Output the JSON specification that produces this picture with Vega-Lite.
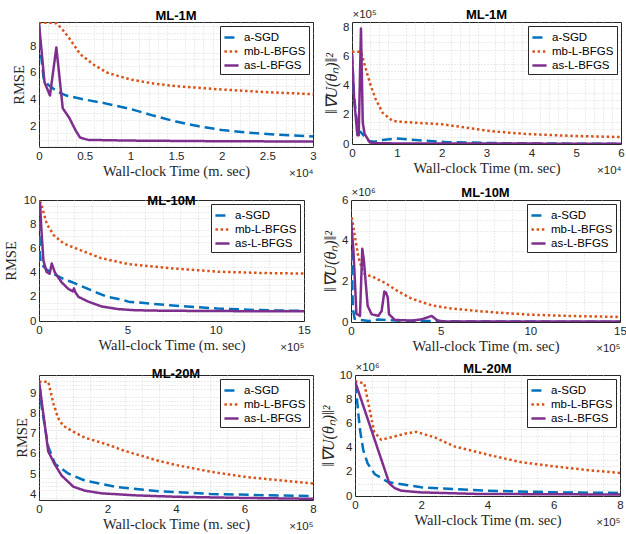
{
"$schema": "https://vega.github.io/schema/vega-lite/v6.json",
"padding": {"left": 2, "top": 7, "right": 0, "bottom": 0},
"config": {
 "font": "Liberation Sans",
 "view": {"stroke": "#262626", "strokeWidth": 1},
 "title": {"font": "Liberation Sans", "fontSize": 13, "fontWeight": "bold", "color": "black", "frame": "group", "anchor": "middle", "offset": 0},
 "axis": {"labelFont": "Liberation Sans", "labelFontSize": 11.5, "labelColor": "#262626", "titleFont": "Liberation Serif", "titleFontSize": 14.5, "titleFontWeight": "normal", "titleColor": "#262626", "domain": false, "ticks": false, "gridColor": "#dcdcdc", "gridWidth": 0.8, "labelPadding": 3, "titlePadding": 3, "labelFlush": false},
 "legend": {"orient": "top-right", "offset": 4, "fillColor": "white", "strokeColor": "#262626", "padding": 3, "labelFontSize": 11.5, "labelFont": "Liberation Sans", "labelColor": "black", "symbolType": "stroke", "symbolStrokeWidth": 2.5, "symbolSize": 200, "rowPadding": 0, "labelOffset": 4}
},
"datasets": {
"p1": [
{"m":"a-SGD","t":0,"v":9.6},{"m":"a-SGD","t":200,"v":7.5},{"m":"a-SGD","t":500,"v":5.6},{"m":"a-SGD","t":1000,"v":5.1},{"m":"a-SGD","t":2000,"v":4.6},{"m":"a-SGD","t":3000,"v":4.3},{"m":"a-SGD","t":5000,"v":4.0},{"m":"a-SGD","t":7000,"v":3.75},{"m":"a-SGD","t":10000,"v":3.3},{"m":"a-SGD","t":12500,"v":2.8},{"m":"a-SGD","t":15000,"v":2.35},{"m":"a-SGD","t":17500,"v":2.0},{"m":"a-SGD","t":20000,"v":1.72},{"m":"a-SGD","t":22500,"v":1.55},{"m":"a-SGD","t":25000,"v":1.42},{"m":"a-SGD","t":27500,"v":1.32},{"m":"a-SGD","t":30000,"v":1.23},
{"m":"mb-L-BFGS","t":0,"v":9.75},{"m":"mb-L-BFGS","t":1000,"v":9.75},{"m":"mb-L-BFGS","t":1900,"v":9.7},{"m":"mb-L-BFGS","t":2500,"v":9.3},{"m":"mb-L-BFGS","t":3300,"v":8.6},{"m":"mb-L-BFGS","t":4500,"v":7.4},{"m":"mb-L-BFGS","t":6000,"v":6.6},{"m":"mb-L-BFGS","t":7500,"v":6.0},{"m":"mb-L-BFGS","t":10000,"v":5.5},{"m":"mb-L-BFGS","t":12500,"v":5.2},{"m":"mb-L-BFGS","t":15000,"v":5.0},{"m":"mb-L-BFGS","t":20000,"v":4.75},{"m":"mb-L-BFGS","t":25000,"v":4.55},{"m":"mb-L-BFGS","t":30000,"v":4.4},
{"m":"as-L-BFGS","t":0,"v":9.7},{"m":"as-L-BFGS","t":600,"v":5.3},{"m":"as-L-BFGS","t":1200,"v":4.3},{"m":"as-L-BFGS","t":1900,"v":7.9},{"m":"as-L-BFGS","t":2600,"v":3.35},{"m":"as-L-BFGS","t":3300,"v":2.65},{"m":"as-L-BFGS","t":4000,"v":1.7},{"m":"as-L-BFGS","t":4500,"v":1.15},{"m":"as-L-BFGS","t":5400,"v":0.98},{"m":"as-L-BFGS","t":10000,"v":0.93},{"m":"as-L-BFGS","t":20000,"v":0.88},{"m":"as-L-BFGS","t":30000,"v":0.86}
],
"p2": [
{"m":"a-SGD","t":0,"v":6.2e5},{"m":"a-SGD","t":400,"v":3.5e5},{"m":"a-SGD","t":900,"v":2.0e5},{"m":"a-SGD","t":1500,"v":0.9e5},{"m":"a-SGD","t":2000,"v":0.8e5},{"m":"a-SGD","t":2700,"v":0.55e5},{"m":"a-SGD","t":3800,"v":0.2e5},{"m":"a-SGD","t":5000,"v":0.15e5},{"m":"a-SGD","t":6800,"v":0.28e5},{"m":"a-SGD","t":9700,"v":0.38e5},{"m":"a-SGD","t":14100,"v":0.28e5},{"m":"a-SGD","t":20700,"v":0.14e5},{"m":"a-SGD","t":30000,"v":0.07e5},{"m":"a-SGD","t":40000,"v":0.04e5},{"m":"a-SGD","t":50000,"v":0.02e5},{"m":"a-SGD","t":60000,"v":0.01e5},
{"m":"mb-L-BFGS","t":0,"v":6.35e5},{"m":"mb-L-BFGS","t":2000,"v":6.35e5},{"m":"mb-L-BFGS","t":3100,"v":5.15e5},{"m":"mb-L-BFGS","t":4200,"v":4.0e5},{"m":"mb-L-BFGS","t":5300,"v":3.08e5},{"m":"mb-L-BFGS","t":6800,"v":2.16e5},{"m":"mb-L-BFGS","t":9000,"v":1.6e5},{"m":"mb-L-BFGS","t":10000,"v":1.55e5},{"m":"mb-L-BFGS","t":15000,"v":1.45e5},{"m":"mb-L-BFGS","t":20000,"v":1.36e5},{"m":"mb-L-BFGS","t":25000,"v":1.15e5},{"m":"mb-L-BFGS","t":30000,"v":0.92e5},{"m":"mb-L-BFGS","t":35000,"v":0.78e5},{"m":"mb-L-BFGS","t":40000,"v":0.67e5},{"m":"mb-L-BFGS","t":50000,"v":0.55e5},{"m":"mb-L-BFGS","t":60000,"v":0.48e5},
{"m":"as-L-BFGS","t":0,"v":6.2e5},{"m":"as-L-BFGS","t":500,"v":3.0e5},{"m":"as-L-BFGS","t":1200,"v":0.6e5},{"m":"as-L-BFGS","t":1500,"v":0.6e5},{"m":"as-L-BFGS","t":2000,"v":7.95e5},{"m":"as-L-BFGS","t":2400,"v":1.5e5},{"m":"as-L-BFGS","t":2800,"v":0.7e5},{"m":"as-L-BFGS","t":4000,"v":0.1e5},{"m":"as-L-BFGS","t":6000,"v":0.05e5},{"m":"as-L-BFGS","t":10000,"v":0.04e5},{"m":"as-L-BFGS","t":30000,"v":0.03e5},{"m":"as-L-BFGS","t":60000,"v":0.02e5}
],
"p3": [
{"m":"a-SGD","t":0,"v":9.5},{"m":"a-SGD","t":5000,"v":5.6},{"m":"a-SGD","t":10000,"v":4.8},{"m":"a-SGD","t":15000,"v":4.67},{"m":"a-SGD","t":43000,"v":4.25},{"m":"a-SGD","t":90000,"v":3.83},{"m":"a-SGD","t":150000,"v":3.4},{"m":"a-SGD","t":190000,"v":3.2},{"m":"a-SGD","t":270000,"v":2.7},{"m":"a-SGD","t":330000,"v":2.33},{"m":"a-SGD","t":385000,"v":2.0},{"m":"a-SGD","t":460000,"v":1.78},{"m":"a-SGD","t":507000,"v":1.6},{"m":"a-SGD","t":740000,"v":1.3},{"m":"a-SGD","t":1010000,"v":1.03},{"m":"a-SGD","t":1250000,"v":0.9},{"m":"a-SGD","t":1500000,"v":0.83},
{"m":"mb-L-BFGS","t":0,"v":9.8},{"m":"mb-L-BFGS","t":10000,"v":9.8},{"m":"mb-L-BFGS","t":27000,"v":8.9},{"m":"mb-L-BFGS","t":45000,"v":8.0},{"m":"mb-L-BFGS","t":83000,"v":7.1},{"m":"mb-L-BFGS","t":140000,"v":6.4},{"m":"mb-L-BFGS","t":253000,"v":5.75},{"m":"mb-L-BFGS","t":350000,"v":5.2},{"m":"mb-L-BFGS","t":507000,"v":4.7},{"m":"mb-L-BFGS","t":743000,"v":4.36},{"m":"mb-L-BFGS","t":1010000,"v":4.08},{"m":"mb-L-BFGS","t":1250000,"v":3.97},{"m":"mb-L-BFGS","t":1500000,"v":3.92},
{"m":"as-L-BFGS","t":0,"v":9.8},{"m":"as-L-BFGS","t":6000,"v":9.7},{"m":"as-L-BFGS","t":15000,"v":7.2},{"m":"as-L-BFGS","t":25000,"v":5.0},{"m":"as-L-BFGS","t":43000,"v":4.05},{"m":"as-L-BFGS","t":60000,"v":3.9},{"m":"as-L-BFGS","t":72000,"v":4.75},{"m":"as-L-BFGS","t":90000,"v":4.0},{"m":"as-L-BFGS","t":128000,"v":3.2},{"m":"as-L-BFGS","t":166000,"v":2.65},{"m":"as-L-BFGS","t":192000,"v":2.45},{"m":"as-L-BFGS","t":198000,"v":2.7},{"m":"as-L-BFGS","t":205000,"v":2.4},{"m":"as-L-BFGS","t":223000,"v":2.0},{"m":"as-L-BFGS","t":279000,"v":1.6},{"m":"as-L-BFGS","t":355000,"v":1.2},{"m":"as-L-BFGS","t":450000,"v":0.98},{"m":"as-L-BFGS","t":543000,"v":0.89},{"m":"as-L-BFGS","t":700000,"v":0.85},{"m":"as-L-BFGS","t":1000000,"v":0.82},{"m":"as-L-BFGS","t":1500000,"v":0.8}
],
"p4": [
{"m":"a-SGD","t":0,"v":5.0e6},{"m":"a-SGD","t":5000,"v":3.0e6},{"m":"a-SGD","t":10000,"v":0.7e6},{"m":"a-SGD","t":20000,"v":0.16e6},{"m":"a-SGD","t":50000,"v":0.1e6},{"m":"a-SGD","t":100000,"v":0.05e6},{"m":"a-SGD","t":150000,"v":0.12e6},{"m":"a-SGD","t":200000,"v":0.1e6},{"m":"a-SGD","t":300000,"v":0.05e6},{"m":"a-SGD","t":450000,"v":0.05e6},{"m":"a-SGD","t":600000,"v":0.03e6},{"m":"a-SGD","t":1000000,"v":0.02e6},{"m":"a-SGD","t":1500000,"v":0.01e6},
{"m":"mb-L-BFGS","t":0,"v":5.1e6},{"m":"mb-L-BFGS","t":5000,"v":5.1e6},{"m":"mb-L-BFGS","t":22000,"v":4.2e6},{"m":"mb-L-BFGS","t":41000,"v":3.2e6},{"m":"mb-L-BFGS","t":69000,"v":2.4e6},{"m":"mb-L-BFGS","t":90000,"v":2.3e6},{"m":"mb-L-BFGS","t":115000,"v":2.25e6},{"m":"mb-L-BFGS","t":190000,"v":1.92e6},{"m":"mb-L-BFGS","t":264000,"v":1.5e6},{"m":"mb-L-BFGS","t":338000,"v":1.15e6},{"m":"mb-L-BFGS","t":450000,"v":0.82e6},{"m":"mb-L-BFGS","t":560000,"v":0.66e6},{"m":"mb-L-BFGS","t":710000,"v":0.54e6},{"m":"mb-L-BFGS","t":850000,"v":0.44e6},{"m":"mb-L-BFGS","t":1000000,"v":0.36e6},{"m":"mb-L-BFGS","t":1250000,"v":0.29e6},{"m":"mb-L-BFGS","t":1500000,"v":0.25e6},
{"m":"as-L-BFGS","t":0,"v":5.0e6},{"m":"as-L-BFGS","t":13000,"v":3.6e6},{"m":"as-L-BFGS","t":22000,"v":2.0e6},{"m":"as-L-BFGS","t":30000,"v":0.4e6},{"m":"as-L-BFGS","t":50000,"v":0.3e6},{"m":"as-L-BFGS","t":63000,"v":3.6e6},{"m":"as-L-BFGS","t":72000,"v":3.0e6},{"m":"as-L-BFGS","t":82000,"v":1.94e6},{"m":"as-L-BFGS","t":93000,"v":0.79e6},{"m":"as-L-BFGS","t":115000,"v":0.38e6},{"m":"as-L-BFGS","t":152000,"v":0.3e6},{"m":"as-L-BFGS","t":171000,"v":0.54e6},{"m":"as-L-BFGS","t":186000,"v":1.5e6},{"m":"as-L-BFGS","t":190000,"v":1.4e6},{"m":"as-L-BFGS","t":195000,"v":1.45e6},{"m":"as-L-BFGS","t":205000,"v":1.2e6},{"m":"as-L-BFGS","t":212000,"v":0.38e6},{"m":"as-L-BFGS","t":245000,"v":0.1e6},{"m":"as-L-BFGS","t":340000,"v":0.07e6},{"m":"as-L-BFGS","t":394000,"v":0.13e6},{"m":"as-L-BFGS","t":450000,"v":0.3e6},{"m":"as-L-BFGS","t":478000,"v":0.1e6},{"m":"as-L-BFGS","t":506000,"v":0.02e6},{"m":"as-L-BFGS","t":800000,"v":0.02e6},{"m":"as-L-BFGS","t":1500000,"v":0.02e6}
],
"p5": [
{"m":"a-SGD","t":0,"v":9.4},{"m":"a-SGD","t":3000,"v":9.2},{"m":"a-SGD","t":8000,"v":8.3},{"m":"a-SGD","t":18000,"v":7.27},{"m":"a-SGD","t":27000,"v":6.35},{"m":"a-SGD","t":47000,"v":5.5},{"m":"a-SGD","t":86000,"v":5.02},{"m":"a-SGD","t":134000,"v":4.68},{"m":"a-SGD","t":231000,"v":4.35},{"m":"a-SGD","t":348000,"v":4.15},{"m":"a-SGD","t":500000,"v":4.02},{"m":"a-SGD","t":650000,"v":3.96},{"m":"a-SGD","t":800000,"v":3.92},
{"m":"mb-L-BFGS","t":0,"v":9.57},{"m":"mb-L-BFGS","t":27000,"v":9.57},{"m":"mb-L-BFGS","t":42000,"v":8.5},{"m":"mb-L-BFGS","t":55000,"v":7.8},{"m":"mb-L-BFGS","t":70000,"v":7.4},{"m":"mb-L-BFGS","t":100000,"v":7.1},{"m":"mb-L-BFGS","t":134000,"v":6.8},{"m":"mb-L-BFGS","t":193000,"v":6.5},{"m":"mb-L-BFGS","t":250000,"v":6.15},{"m":"mb-L-BFGS","t":300000,"v":5.9},{"m":"mb-L-BFGS","t":350000,"v":5.65},{"m":"mb-L-BFGS","t":400000,"v":5.45},{"m":"mb-L-BFGS","t":500000,"v":5.12},{"m":"mb-L-BFGS","t":600000,"v":4.87},{"m":"mb-L-BFGS","t":700000,"v":4.7},{"m":"mb-L-BFGS","t":800000,"v":4.53},
{"m":"as-L-BFGS","t":0,"v":9.6},{"m":"as-L-BFGS","t":27000,"v":6.12},{"m":"as-L-BFGS","t":47000,"v":5.45},{"m":"as-L-BFGS","t":66000,"v":4.93},{"m":"as-L-BFGS","t":100000,"v":4.38},{"m":"as-L-BFGS","t":134000,"v":4.18},{"m":"as-L-BFGS","t":183000,"v":4.05},{"m":"as-L-BFGS","t":280000,"v":3.95},{"m":"as-L-BFGS","t":400000,"v":3.88},{"m":"as-L-BFGS","t":600000,"v":3.82},{"m":"as-L-BFGS","t":800000,"v":3.78}
],
"p6": [
{"m":"a-SGD","t":0,"v":9.3e6},{"m":"a-SGD","t":5000,"v":8.3e6},{"m":"a-SGD","t":10000,"v":6.8e6},{"m":"a-SGD","t":16000,"v":5.3e6},{"m":"a-SGD","t":25000,"v":3.8e6},{"m":"a-SGD","t":38000,"v":2.7e6},{"m":"a-SGD","t":60000,"v":1.8e6},{"m":"a-SGD","t":100000,"v":1.15e6},{"m":"a-SGD","t":200000,"v":0.72e6},{"m":"a-SGD","t":400000,"v":0.44e6},{"m":"a-SGD","t":600000,"v":0.3e6},{"m":"a-SGD","t":800000,"v":0.25e6},
{"m":"mb-L-BFGS","t":0,"v":9.5e6},{"m":"mb-L-BFGS","t":28000,"v":9.3e6},{"m":"mb-L-BFGS","t":43000,"v":7.3e6},{"m":"mb-L-BFGS","t":58000,"v":5.3e6},{"m":"mb-L-BFGS","t":79000,"v":4.65e6},{"m":"mb-L-BFGS","t":110000,"v":4.85e6},{"m":"mb-L-BFGS","t":150000,"v":5.15e6},{"m":"mb-L-BFGS","t":185000,"v":5.3e6},{"m":"mb-L-BFGS","t":240000,"v":4.85e6},{"m":"mb-L-BFGS","t":300000,"v":4.1e6},{"m":"mb-L-BFGS","t":400000,"v":3.42e6},{"m":"mb-L-BFGS","t":500000,"v":2.8e6},{"m":"mb-L-BFGS","t":600000,"v":2.45e6},{"m":"mb-L-BFGS","t":700000,"v":2.15e6},{"m":"mb-L-BFGS","t":800000,"v":1.9e6},
{"m":"as-L-BFGS","t":0,"v":9.48e6},{"m":"as-L-BFGS","t":104000,"v":1.02e6},{"m":"as-L-BFGS","t":120000,"v":0.65e6},{"m":"as-L-BFGS","t":139000,"v":0.44e6},{"m":"as-L-BFGS","t":199000,"v":0.3e6},{"m":"as-L-BFGS","t":370000,"v":0.17e6},{"m":"as-L-BFGS","t":800000,"v":0.12e6}
]
},
"spacing": 6,
"resolve": {"scale": {"color": "independent", "strokeDash": "independent"}, "legend": {"color": "independent", "strokeDash": "independent"}},
"vconcat": [
{"hconcat": [
 {"width": 274, "height": 125, "title": {"text": "ML-1M", "offset": -3}, "data": {"name": "p1"},
  "layer": [
   {"mark": {"type": "point", "opacity": 0},
    "encoding": {
     "x": {"field": "t", "type": "quantitative", "scale": {"domain": [0, 30000], "nice": false, "zero": false},
      "axis": {"orient": "bottom", "values": [1000,2000,3000,4000,6000,7000,8000,9000,11000,12000,13000,14000,16000,17000,18000,19000,21000,22000,23000,24000,26000,27000,28000,29000], "labels": false, "gridDash": [1, 2], "gridColor": "#cfcfcf", "title": "×10⁴", "titleFont": "Liberation Sans", "titleFontSize": 11.5, "titleX": 274, "titleY": 20, "titleAlign": "right", "titleBaseline": "top"}},
     "y": {"field": "v", "type": "quantitative", "scale": {"domain": [0.45, 9.8], "nice": false, "zero": false},
      "axis": {"orient": "left", "values": [0.5,1,1.5,2.5,3,3.5,4.5,5,5.5,6.5,7,7.5,8.5,9,9.5], "labels": false, "gridDash": [1, 2], "gridColor": "#cfcfcf", "title": null}}
    }},
   {"mark": {"type": "line", "strokeWidth": 2.5, "clip": true, "strokeJoin": "round"},
    "encoding": {
     "x": {"field": "t", "type": "quantitative", "scale": {"domain": [0, 30000], "nice": false, "zero": false},
      "axis": {"orient": "bottom", "values": [0,5000,10000,15000,20000,25000,30000], "labelExpr": "format(datum.value/1e4, '~g')", "title": "Wall-clock Time (m. sec)", "gridOpacity": {"condition": {"test": "datum.value <= 0 || datum.value >= 30000", "value": 0}, "value": 1}}},
     "y": {"field": "v", "type": "quantitative", "scale": {"domain": [0.45, 9.8], "nice": false, "zero": false},
      "axis": {"orient": "left", "values": [2,4,6,8], "title": "RMSE"}},
     "color": {"field": "m", "type": "nominal", "scale": {"domain": ["a-SGD","mb-L-BFGS","as-L-BFGS"], "range": ["#0072BD","#D95319","#7E2F8E"]}, "legend": {"title": null}},
     "strokeDash": {"field": "m", "type": "nominal", "scale": {"domain": ["a-SGD","mb-L-BFGS","as-L-BFGS"], "range": [[10,5],[2.5,2.7],[1,0]]}, "legend": {"title": null}}
    }}
  ],
  "resolve": {"axis": {"x": "independent", "y": "independent"}}},
 {"width": 269, "height": 122, "title": {"text": "ML-1M", "offset": -14}, "data": {"name": "p2"},
  "layer": [
   {"mark": {"type": "point", "opacity": 0},
    "encoding": {
     "x": {"field": "t", "type": "quantitative", "scale": {"domain": [0, 60000], "nice": false, "zero": false},
      "axis": {"orient": "bottom", "values": [2000,4000,6000,8000,12000,14000,16000,18000,22000,24000,26000,28000,32000,34000,36000,38000,42000,44000,46000,48000,52000,54000,56000,58000], "labels": false, "gridDash": [1, 2], "gridColor": "#cfcfcf", "title": "×10⁴", "titleFont": "Liberation Sans", "titleFontSize": 11.5, "titleX": 269, "titleY": 20, "titleAlign": "right", "titleBaseline": "top"}},
     "y": {"field": "v", "type": "quantitative", "scale": {"domain": [0, 8.4e5], "nice": false, "zero": false},
      "axis": {"orient": "left", "values": [0.5e5,1e5,1.5e5,2.5e5,3e5,3.5e5,4.5e5,5e5,5.5e5,6.5e5,7e5,7.5e5], "labels": false, "gridDash": [1, 2], "gridColor": "#cfcfcf", "title": "×10⁵", "titleFont": "Liberation Sans", "titleFontSize": 11.5, "titleAngle": 0, "titleX": 0, "titleY": -3, "titleAlign": "left", "titleBaseline": "bottom"}}
    }},
   {"mark": {"type": "line", "strokeWidth": 2.5, "clip": true, "strokeJoin": "round"},
    "encoding": {
     "x": {"field": "t", "type": "quantitative", "scale": {"domain": [0, 60000], "nice": false, "zero": false},
      "axis": {"orient": "bottom", "values": [0,10000,20000,30000,40000,50000,60000], "labelExpr": "format(datum.value/1e4, '~g')", "title": "Wall-clock Time (m. sec)", "gridOpacity": {"condition": {"test": "datum.value <= 0 || datum.value >= 60000", "value": 0}, "value": 1}}},
     "y": {"field": "v", "type": "quantitative", "scale": {"domain": [0, 8.4e5], "nice": false, "zero": false},
      "axis": {"orient": "left", "values": [0,2e5,4e5,6e5,8e5], "labelExpr": "format(datum.value/1e5, '~g')", "title": "‖∇U(θₙ)‖²", "titleFontSize": 16, "titleFontStyle": "italic", "gridOpacity": {"condition": {"test": "datum.value <= 0", "value": 0}, "value": 1}}},
     "color": {"field": "m", "type": "nominal", "scale": {"domain": ["a-SGD","mb-L-BFGS","as-L-BFGS"], "range": ["#0072BD","#D95319","#7E2F8E"]}, "legend": {"title": null}},
     "strokeDash": {"field": "m", "type": "nominal", "scale": {"domain": ["a-SGD","mb-L-BFGS","as-L-BFGS"], "range": [[10,5],[2.5,2.7],[1,0]]}, "legend": {"title": null}}
    }}
  ],
  "resolve": {"axis": {"x": "independent", "y": "independent"}}}
 ], "spacing": 6, "resolve": {"scale": {"color": "independent", "strokeDash": "independent"}, "legend": {"color": "independent", "strokeDash": "independent"}}},
{"hconcat": [
 {"width": 265, "height": 121, "title": {"text": "ML-10M", "offset": -14}, "data": {"name": "p3"},
  "layer": [
   {"mark": {"type": "point", "opacity": 0},
    "encoding": {
     "x": {"field": "t", "type": "quantitative", "scale": {"domain": [0, 1.5e6], "nice": false, "zero": false},
      "axis": {"orient": "bottom", "values": [1e5,2e5,3e5,4e5,6e5,7e5,8e5,9e5,11e5,12e5,13e5,14e5], "labels": false, "gridDash": [1, 2], "gridColor": "#cfcfcf", "title": "×10⁵", "titleFont": "Liberation Sans", "titleFontSize": 11.5, "titleX": 265, "titleY": 20, "titleAlign": "right", "titleBaseline": "top"}},
     "y": {"field": "v", "type": "quantitative", "scale": {"domain": [0, 10], "nice": false, "zero": false},
      "axis": {"orient": "left", "values": [0.5,1,1.5,2.5,3,3.5,4.5,5,5.5,6.5,7,7.5,8.5,9,9.5], "labels": false, "gridDash": [1, 2], "gridColor": "#cfcfcf", "title": null}}
    }},
   {"mark": {"type": "line", "strokeWidth": 2.5, "clip": true, "strokeJoin": "round"},
    "encoding": {
     "x": {"field": "t", "type": "quantitative", "scale": {"domain": [0, 1.5e6], "nice": false, "zero": false},
      "axis": {"orient": "bottom", "values": [0,5e5,10e5,15e5], "labelExpr": "format(datum.value/1e5, '~g')", "title": "Wall-clock Time (m. sec)", "gridOpacity": {"condition": {"test": "datum.value <= 0 || datum.value >= 1.5e6", "value": 0}, "value": 1}}},
     "y": {"field": "v", "type": "quantitative", "scale": {"domain": [0, 10], "nice": false, "zero": false},
      "axis": {"orient": "left", "values": [0,2,4,6,8,10], "title": "RMSE", "titlePadding": 5, "gridOpacity": {"condition": {"test": "datum.value <= 0 || datum.value >= 10", "value": 0}, "value": 1}}},
     "color": {"field": "m", "type": "nominal", "scale": {"domain": ["a-SGD","mb-L-BFGS","as-L-BFGS"], "range": ["#0072BD","#D95319","#7E2F8E"]}, "legend": {"title": null}},
     "strokeDash": {"field": "m", "type": "nominal", "scale": {"domain": ["a-SGD","mb-L-BFGS","as-L-BFGS"], "range": [[10,5],[2.5,2.7],[1,0]]}, "legend": {"title": null}}
    }}
  ],
  "resolve": {"axis": {"x": "independent", "y": "independent"}}},
 {"width": 269, "height": 122, "title": {"text": "ML-10M", "offset": -14}, "data": {"name": "p4"},
  "layer": [
   {"mark": {"type": "point", "opacity": 0},
    "encoding": {
     "x": {"field": "t", "type": "quantitative", "scale": {"domain": [0, 1.5e6], "nice": false, "zero": false},
      "axis": {"orient": "bottom", "values": [1e5,2e5,3e5,4e5,6e5,7e5,8e5,9e5,11e5,12e5,13e5,14e5], "labels": false, "gridDash": [1, 2], "gridColor": "#cfcfcf", "title": "×10⁵", "titleFont": "Liberation Sans", "titleFontSize": 11.5, "titleX": 269, "titleY": 20, "titleAlign": "right", "titleBaseline": "top"}},
     "y": {"field": "v", "type": "quantitative", "scale": {"domain": [0, 6e6], "nice": false, "zero": false},
      "axis": {"orient": "left", "values": [0.5e6,1e6,1.5e6,2.5e6,3e6,3.5e6,4.5e6,5e6,5.5e6], "labels": false, "gridDash": [1, 2], "gridColor": "#cfcfcf", "title": "×10⁶", "titleFont": "Liberation Sans", "titleFontSize": 11.5, "titleAngle": 0, "titleX": 0, "titleY": -3, "titleAlign": "left", "titleBaseline": "bottom"}}
    }},
   {"mark": {"type": "line", "strokeWidth": 2.5, "clip": true, "strokeJoin": "round"},
    "encoding": {
     "x": {"field": "t", "type": "quantitative", "scale": {"domain": [0, 1.5e6], "nice": false, "zero": false},
      "axis": {"orient": "bottom", "values": [0,5e5,10e5,15e5], "labelExpr": "format(datum.value/1e5, '~g')", "title": "Wall-clock Time (m. sec)", "gridOpacity": {"condition": {"test": "datum.value <= 0 || datum.value >= 1.5e6", "value": 0}, "value": 1}}},
     "y": {"field": "v", "type": "quantitative", "scale": {"domain": [0, 6e6], "nice": false, "zero": false},
      "axis": {"orient": "left", "values": [0,2e6,4e6,6e6], "labelExpr": "format(datum.value/1e6, '~g')", "title": "‖∇U(θₙ)‖²", "titleFontSize": 16, "titleFontStyle": "italic", "gridOpacity": {"condition": {"test": "datum.value <= 0 || datum.value >= 6e6", "value": 0}, "value": 1}}},
     "color": {"field": "m", "type": "nominal", "scale": {"domain": ["a-SGD","mb-L-BFGS","as-L-BFGS"], "range": ["#0072BD","#D95319","#7E2F8E"]}, "legend": {"title": null}},
     "strokeDash": {"field": "m", "type": "nominal", "scale": {"domain": ["a-SGD","mb-L-BFGS","as-L-BFGS"], "range": [[10,5],[2.5,2.7],[1,0]]}, "legend": {"title": null}}
    }}
  ],
  "resolve": {"axis": {"x": "independent", "y": "independent"}}}
 ], "spacing": 11, "resolve": {"scale": {"color": "independent", "strokeDash": "independent"}, "legend": {"color": "independent", "strokeDash": "independent"}}},
{"hconcat": [
 {"width": 274, "height": 125, "title": {"text": "ML-20M", "offset": -6}, "data": {"name": "p5"},
  "layer": [
   {"mark": {"type": "point", "opacity": 0},
    "encoding": {
     "x": {"field": "t", "type": "quantitative", "scale": {"domain": [0, 8e5], "nice": false, "zero": false},
      "axis": {"orient": "bottom", "values": [0.5e5,1e5,1.5e5,2.5e5,3e5,3.5e5,4.5e5,5e5,5.5e5,6.5e5,7e5,7.5e5], "labels": false, "gridDash": [1, 2], "gridColor": "#cfcfcf", "title": "×10⁵", "titleFont": "Liberation Sans", "titleFontSize": 11.5, "titleX": 274, "titleY": 20, "titleAlign": "right", "titleBaseline": "top"}},
     "y": {"field": "v", "type": "quantitative", "scale": {"domain": [3.72, 9.9], "nice": false, "zero": false},
      "axis": {"orient": "left", "values": [3.8,4.2,4.4,4.6,4.8,5.2,5.4,5.6,5.8,6.2,6.4,6.6,6.8,7.2,7.4,7.6,7.8,8.2,8.4,8.6,8.8,9.2,9.4,9.6,9.8], "labels": false, "gridDash": [1, 2], "gridColor": "#cfcfcf", "title": null}}
    }},
   {"mark": {"type": "line", "strokeWidth": 2.5, "clip": true, "strokeJoin": "round"},
    "encoding": {
     "x": {"field": "t", "type": "quantitative", "scale": {"domain": [0, 8e5], "nice": false, "zero": false},
      "axis": {"orient": "bottom", "values": [0,2e5,4e5,6e5,8e5], "labelExpr": "format(datum.value/1e5, '~g')", "title": "Wall-clock Time (m. sec)", "gridOpacity": {"condition": {"test": "datum.value <= 0 || datum.value >= 8e5", "value": 0}, "value": 1}}},
     "y": {"field": "v", "type": "quantitative", "scale": {"domain": [3.72, 9.9], "nice": false, "zero": false},
      "axis": {"orient": "left", "values": [4,5,6,7,8,9], "title": "RMSE", "titlePadding": 0}},
     "color": {"field": "m", "type": "nominal", "scale": {"domain": ["a-SGD","mb-L-BFGS","as-L-BFGS"], "range": ["#0072BD","#D95319","#7E2F8E"]}, "legend": {"title": null}},
     "strokeDash": {"field": "m", "type": "nominal", "scale": {"domain": ["a-SGD","mb-L-BFGS","as-L-BFGS"], "range": [[10,5],[2.5,2.7],[1,0]]}, "legend": {"title": null}}
    }}
  ],
  "resolve": {"axis": {"x": "independent", "y": "independent"}}},
 {"width": 265, "height": 121, "title": {"text": "ML-20M", "offset": -15}, "data": {"name": "p6"},
  "layer": [
   {"mark": {"type": "point", "opacity": 0},
    "encoding": {
     "x": {"field": "t", "type": "quantitative", "scale": {"domain": [0, 8e5], "nice": false, "zero": false},
      "axis": {"orient": "bottom", "values": [0.5e5,1e5,1.5e5,2.5e5,3e5,3.5e5,4.5e5,5e5,5.5e5,6.5e5,7e5,7.5e5], "labels": false, "gridDash": [1, 2], "gridColor": "#cfcfcf", "title": "×10⁵", "titleFont": "Liberation Sans", "titleFontSize": 11.5, "titleX": 265, "titleY": 20, "titleAlign": "right", "titleBaseline": "top"}},
     "y": {"field": "v", "type": "quantitative", "scale": {"domain": [0, 1e7], "nice": false, "zero": false},
      "axis": {"orient": "left", "values": [0.5e6,1e6,1.5e6,2.5e6,3e6,3.5e6,4.5e6,5e6,5.5e6,6.5e6,7e6,7.5e6,8.5e6,9e6,9.5e6], "labels": false, "gridDash": [1, 2], "gridColor": "#cfcfcf", "title": "×10⁶", "titleFont": "Liberation Sans", "titleFontSize": 11.5, "titleAngle": 0, "titleX": 0, "titleY": -3, "titleAlign": "left", "titleBaseline": "bottom"}}
    }},
   {"mark": {"type": "line", "strokeWidth": 2.5, "clip": true, "strokeJoin": "round"},
    "encoding": {
     "x": {"field": "t", "type": "quantitative", "scale": {"domain": [0, 8e5], "nice": false, "zero": false},
      "axis": {"orient": "bottom", "values": [0,2e5,4e5,6e5,8e5], "labelExpr": "format(datum.value/1e5, '~g')", "title": "Wall-clock Time (m. sec)", "gridOpacity": {"condition": {"test": "datum.value <= 0 || datum.value >= 8e5", "value": 0}, "value": 1}}},
     "y": {"field": "v", "type": "quantitative", "scale": {"domain": [0, 1e7], "nice": false, "zero": false},
      "axis": {"orient": "left", "values": [0,2e6,4e6,6e6,8e6,10e6], "labelExpr": "format(datum.value/1e6, '~g')", "title": "‖∇U(θₙ)‖²", "titleFontSize": 16, "titleFontStyle": "italic", "gridOpacity": {"condition": {"test": "datum.value <= 0 || datum.value >= 1e7", "value": 0}, "value": 1}}},
     "color": {"field": "m", "type": "nominal", "scale": {"domain": ["a-SGD","mb-L-BFGS","as-L-BFGS"], "range": ["#0072BD","#D95319","#7E2F8E"]}, "legend": {"title": null}},
     "strokeDash": {"field": "m", "type": "nominal", "scale": {"domain": ["a-SGD","mb-L-BFGS","as-L-BFGS"], "range": [[10,5],[2.5,2.7],[1,0]]}, "legend": {"title": null}}
    }}
  ],
  "resolve": {"axis": {"x": "independent", "y": "independent"}}}
 ], "spacing": 2, "resolve": {"scale": {"color": "independent", "strokeDash": "independent"}, "legend": {"color": "independent", "strokeDash": "independent"}}}
]
}
